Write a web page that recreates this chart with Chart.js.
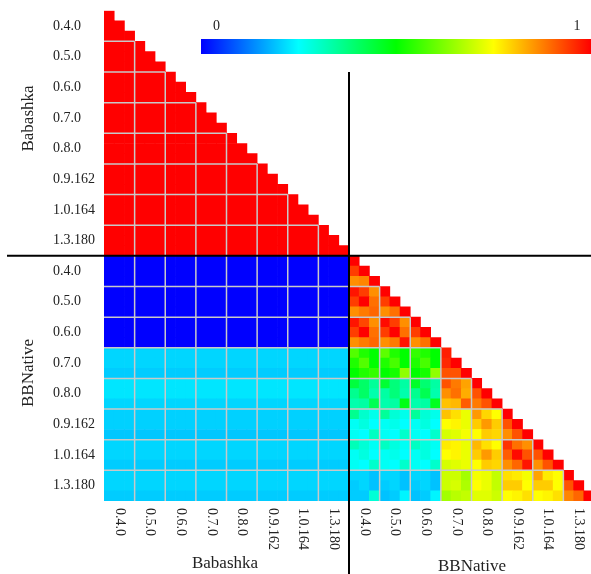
<!DOCTYPE html>
<html><head><meta charset="utf-8">
<script src="https://cdn.jsdelivr.net/npm/chart.js@4"></script>
<style>
html,body{margin:0;padding:0;overflow:hidden;background:#fff;width:591px;height:574px}
#wrap{width:600px;height:574px}
</style>
</head><body><div id="wrap"><canvas id="c" width="600" height="574"></canvas></div>
<script>
// ---- data ----
const versions = ['0.4.0','0.5.0','0.6.0','0.7.0','0.8.0','0.9.162','1.0.164','1.3.180'];
const groups = ['Babashka','BBNative'];
const cellsPerVersion = 3;
const colorbarTicks = ['0','1'];

// Babashka rows vs Babashka columns (each row uniform across its cells)
const babashkaVsBabashkaRows = [1,1,1, 1,1,1, 1,1,1, 1,1,1, 1,1,1, 1,1,1, 1,1,1, 1,1,1];
// BBNative rows vs Babashka columns (each row uniform across columns)
const bbnativeVsBabashkaRows = [0,0,0, 0,0,0, 0,0,0, 0.21,0.21,0.20, 0.225,0.225,0.21, 0.205,0.205,0.195, 0.21,0.21,0.20, 0.21,0.21,0.20];
// BBNative rows vs BBNative columns (lower triangle)
const bbnativeVsBbnative = [
  [1.00],
  [0.94,1.00],
  [0.86,0.87,1.00],
  [0.98,0.94,0.86,1.00],
  [0.94,1.00,0.89,0.94,1.00],
  [0.86,0.88,0.90,0.86,0.89,1.00],
  [0.98,0.93,0.86,0.99,0.94,0.86,1.00],
  [0.94,1.00,0.89,0.94,1.00,0.89,0.94,1.00],
  [0.86,0.88,0.90,0.86,0.88,0.98,0.86,0.89,1.00],
  [0.58,0.53,0.50,0.59,0.53,0.50,0.55,0.53,0.50,0.97],
  [0.53,0.58,0.50,0.53,0.57,0.50,0.53,0.57,0.50,0.96,1.00],
  [0.50,0.53,0.55,0.50,0.52,0.64,0.50,0.52,0.64,0.92,0.92,1.00],
  [0.44,0.40,0.35,0.45,0.38,0.34,0.46,0.39,0.34,0.92,0.88,0.84,1.00],
  [0.36,0.40,0.33,0.34,0.38,0.33,0.36,0.42,0.33,0.86,0.89,0.83,0.92,1.00],
  [0.33,0.34,0.42,0.33,0.34,0.48,0.33,0.34,0.47,0.81,0.82,0.91,0.88,0.92,1.00],
  [0.36,0.30,0.27,0.35,0.29,0.27,0.35,0.29,0.27,0.81,0.78,0.73,0.85,0.79,0.75,1.00],
  [0.26,0.28,0.25,0.26,0.27,0.25,0.26,0.28,0.25,0.75,0.76,0.73,0.80,0.85,0.80,0.92,1.00],
  [0.26,0.25,0.31,0.26,0.25,0.30,0.26,0.25,0.30,0.71,0.72,0.74,0.75,0.80,0.79,0.86,0.92,1.00],
  [0.32,0.29,0.26,0.31,0.28,0.26,0.31,0.28,0.26,0.77,0.76,0.73,0.82,0.78,0.75,0.95,0.89,0.86,1.00],
  [0.26,0.28,0.25,0.26,0.27,0.25,0.26,0.28,0.25,0.75,0.76,0.73,0.80,0.85,0.80,0.91,0.99,0.92,0.92,1.00],
  [0.26,0.25,0.30,0.26,0.25,0.30,0.26,0.25,0.30,0.71,0.72,0.73,0.75,0.80,0.79,0.86,0.90,0.98,0.86,0.92,1.00],
  [0.21,0.21,0.19,0.21,0.21,0.19,0.21,0.21,0.19,0.70,0.70,0.66,0.74,0.73,0.69,0.78,0.77,0.74,0.84,0.77,0.75,1.00],
  [0.20,0.21,0.19,0.20,0.21,0.19,0.20,0.21,0.19,0.70,0.71,0.67,0.75,0.73,0.69,0.80,0.80,0.75,0.80,0.80,0.75,0.92,1.00],
  [0.20,0.20,0.29,0.19,0.20,0.24,0.19,0.20,0.24,0.66,0.68,0.69,0.72,0.72,0.70,0.75,0.76,0.78,0.75,0.76,0.78,0.87,0.90,1.00]
];

// ---- colour map ----
const jetStops = [[0,0,0,255],[0.25,0,255,255],[0.5,0,255,0],[0.75,255,255,0],[1,255,0,0]];
function jet(v){
  v = Math.max(0, Math.min(1, v));
  for (let i=1;i<jetStops.length;i++){
    const a=jetStops[i-1], b=jetStops[i];
    if (v<=b[0]){
      const t=(v-a[0])/(b[0]-a[0]);
      const r=Math.round(a[1]+(b[1]-a[1])*t), g=Math.round(a[2]+(b[2]-a[2])*t), bl=Math.round(a[3]+(b[3]-a[3])*t);
      return `rgb(${r},${g},${bl})`;
    }
  }
  return 'rgb(255,0,0)';
}

const half = versions.length*cellsPerVersion;
const total = half*groups.length;
const cells = [];
for (let r=0;r<total;r++){
  for (let c=0;c<=r;c++){
    let v;
    if (r<half) v = babashkaVsBabashkaRows[r];
    else if (c<half) v = bbnativeVsBabashkaRows[r-half];
    else v = bbnativeVsBbnative[r-half][c-half];
    cells.push({x:c+0.5, y:[r,r+1], v:v});
  }
}

const FONT = '"Liberation Serif", "Times New Roman", serif';

const decor = {
  id:'decor',
  afterDatasetsDraw(chart){
    const ctx = chart.ctx, xs = chart.scales.x, ys = chart.scales.y;
    ctx.save();
    // light grid at version boundaries
    ctx.strokeStyle = '#c8c8c8';
    ctx.lineWidth = 1.5;
    for (let k=1;k<versions.length*groups.length;k++){
      const b = k*cellsPerVersion;
      if (b===half) continue;
      ctx.beginPath();
      ctx.moveTo(xs.getPixelForValue(b), ys.getPixelForValue(b));
      ctx.lineTo(xs.getPixelForValue(b), ys.getPixelForValue(total));
      ctx.moveTo(xs.getPixelForValue(0), ys.getPixelForValue(b));
      ctx.lineTo(xs.getPixelForValue(b), ys.getPixelForValue(b));
      ctx.stroke();
    }
    // group dividers
    ctx.strokeStyle = '#000';
    ctx.lineWidth = 2;
    ctx.beginPath();
    const gx = xs.getPixelForValue(half), gy = ys.getPixelForValue(half);
    ctx.moveTo(gx, 72); ctx.lineTo(gx, 574);
    ctx.moveTo(7, gy); ctx.lineTo(600, gy);
    ctx.stroke();

    // tick labels
    ctx.fillStyle = '#222';
    ctx.font = '14px ' + FONT;
    for (let g=0; g<groups.length; g++){
      for (let i=0;i<versions.length;i++){
        const mid = g*half + i*cellsPerVersion + cellsPerVersion/2;
        // y labels
        ctx.textAlign='left'; ctx.textBaseline='middle';
        ctx.fillText(versions[i], 53, ys.getPixelForValue(mid));
        // x labels rotated clockwise
        ctx.save();
        ctx.translate(xs.getPixelForValue(mid), 508);
        ctx.rotate(Math.PI/2);
        ctx.textAlign='left'; ctx.textBaseline='middle';
        ctx.fillText(versions[i], 0, 0);
        ctx.restore();
      }
    }
    // group titles
    ctx.font = '17px ' + FONT;
    ctx.fillStyle = '#222';
    ctx.textAlign='center'; ctx.textBaseline='middle';
    const yTitle = [[29,118.5],[29,373]];
    for (let g=0; g<groups.length; g++){
      ctx.save();
      ctx.translate(yTitle[g][0], yTitle[g][1]);
      ctx.rotate(-Math.PI/2);
      ctx.fillText(groups[g], 0, 0);
      ctx.restore();
    }
    ctx.fillText(groups[0], 225, 564);
    ctx.fillText(groups[1], 472, 567);

    // colour bar
    const bx=201, by=39, bw=390, bh=15;
    const grad = ctx.createLinearGradient(bx,0,bx+bw,0);
    for (const s of jetStops) grad.addColorStop(s[0], `rgb(${s[1]},${s[2]},${s[3]})`);
    ctx.fillStyle = grad;
    ctx.fillRect(bx,by,bw,bh);
    ctx.fillStyle = '#222';
    ctx.font = '14px ' + FONT;
    ctx.textAlign='center'; ctx.textBaseline='middle';
    ctx.fillText(colorbarTicks[0], 216.5, 26);
    ctx.fillText(colorbarTicks[1], 577, 26);
    ctx.restore();
  }
};

new Chart(document.getElementById('c'), {
  type:'bar',
  data:{ datasets:[{
    data: cells,
    backgroundColor: (c) => c.raw ? jet(c.raw.v) : '#fff',
    borderWidth: 0,
    categoryPercentage: 1,
    barPercentage: 1
  }]},
  options:{
    responsive:false,
    animation:false,
    layout:{padding:{left:104, right:6, top:10.7, bottom:73}},
    plugins:{legend:{display:false}, tooltip:{enabled:false}},
    scales:{
      x:{type:'linear', min:0, max:total, offset:false, display:false},
      y:{type:'linear', min:0, max:total, reverse:true, display:false}
    }
  },
  plugins:[decor]
});
</script>
</body></html>
